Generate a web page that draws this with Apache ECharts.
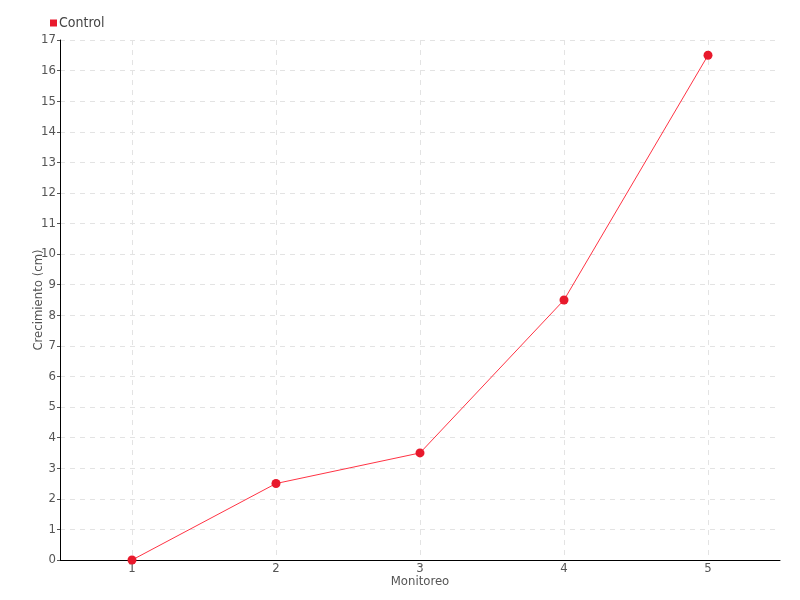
<!DOCTYPE html>
<html><head><meta charset="utf-8">
<script src="https://cdn.jsdelivr.net/npm/echarts@6/dist/echarts.min.js"></script>
<style>html,body{margin:0;padding:0;background:#fff}#c{width:800px;height:600px}</style>
</head><body><div id="c"></div>
<script>
const categories = ['1', '2', '3', '4', '5'];
const controlValues = [0, 2.5, 3.5, 8.5, 16.5];
const seriesName = 'Control';
const xName = 'Monitoreo';
const yName = 'Crecimiento (cm)';

const FONT = '"DejaVu Sans Condensed", "Liberation Sans Narrow", "Roboto", sans-serif';
const chart = echarts.init(document.getElementById('c'), null, {renderer: 'canvas'});
chart.setOption({
  animation: false,
  backgroundColor: '#fff',
  textStyle: {fontFamily: FONT},
  legend: {
    data: [seriesName], left: 45, top: 11, icon: 'rect', itemWidth: 7, itemHeight: 7, itemGap: 4,
    textStyle: {fontFamily: FONT, fontSize: 14, color: '#444', padding: [0, 0, 0, -3]}
  },
  grid: {left: 60, right: 20, top: 40, bottom: 40},
  xAxis: {
    type: 'category', data: categories, boundaryGap: true,
    name: xName, nameLocation: 'middle', nameGap: 15, nameMoveOverlap: false,
    nameTextStyle: {fontFamily: FONT, fontSize: 13, color: '#555'},
    axisLine: {lineStyle: {color: '#000', width: 1}},
    axisTick: {alignWithLabel: true, length: 5, lineStyle: {color: '#555'}},
    axisLabel: {fontFamily: FONT, fontSize: 13, color: '#555', margin: 2},
    splitLine: {show: true, alignWithLabel: true, lineStyle: {type: [5, 5], color: '#e3e3e3'}}
  },
  yAxis: {
    type: 'value', min: 0, max: 17, interval: 1,
    name: yName, nameLocation: 'middle', nameGap: 15, nameMoveOverlap: false,
    nameTextStyle: {fontFamily: FONT, fontSize: 13, color: '#555'},
    axisLine: {show: true, lineStyle: {color: '#000', width: 1}},
    axisTick: {show: true, length: 3, lineStyle: {color: '#555'}},
    axisLabel: {fontFamily: FONT, fontSize: 13, color: '#555', margin: 4},
    splitLine: {show: true, lineStyle: {type: [5, 5], color: '#e3e3e3'}}
  },
  series: [{
    name: seriesName, type: 'line', data: controlValues,
    symbol: 'circle', symbolSize: 9,
    itemStyle: {color: '#e8192c'},
    lineStyle: {color: '#ff3344', width: 1}
  }]
});
</script></body></html>
